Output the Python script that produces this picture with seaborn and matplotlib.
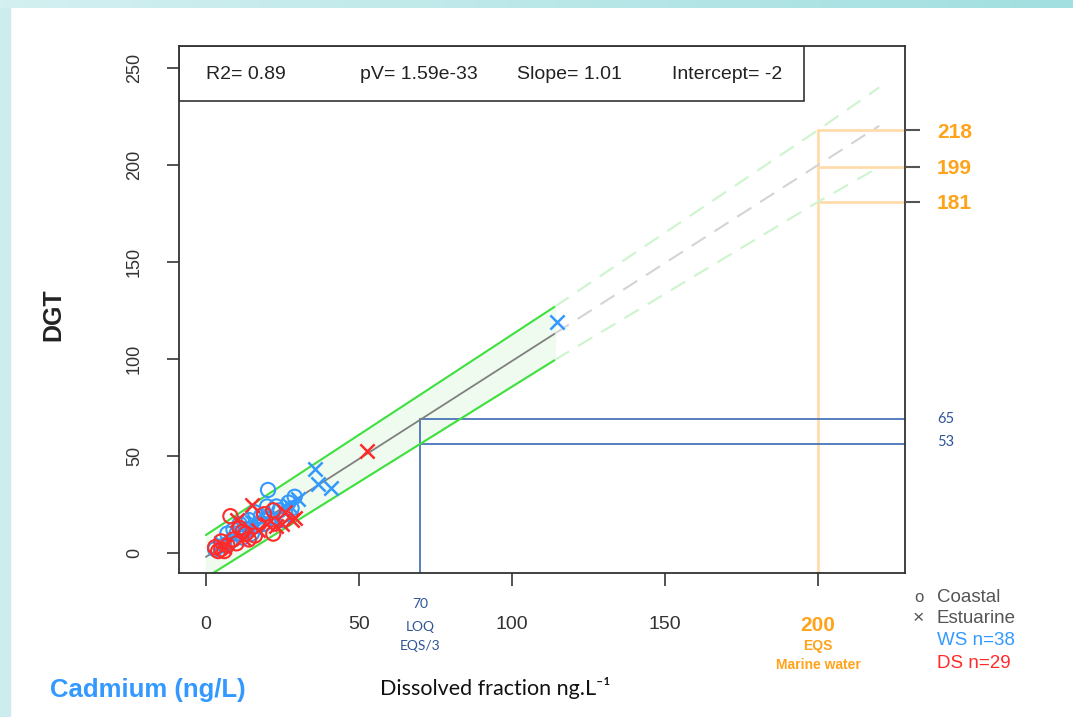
import numpy as np
import pandas as pd
import seaborn as sns
from matplotlib import pyplot as plt
from matplotlib.patches import Rectangle
import matplotlib.transforms as mtransforms

sns.set_style('white')
plt.rcParams['font.family'] = ['Liberation Sans', 'DejaVu Sans']

# WS (blue) points, estuarine (x) and coastal (o)
ws_est_x = [114.7, 35.6, 36.6, 40.8, 27, 25, 18, 15, 22, 5, 12, 30, 16]
ws_est_y = [119, 43.3, 35.6, 33.5, 25, 22, 20, 16, 18, 5, 14, 28, 13]
ws_coa_x = [20.3, 29, 27, 24, 18, 14, 16, 21, 10, 8, 6, 13, 19, 25, 12, 7, 23, 17, 9, 26, 3, 15, 11, 20, 28]
ws_coa_y = [32.5, 29, 26, 22, 19, 17, 21, 18, 10, 6, 4, 12, 15, 17, 8, 10, 24, 14, 12, 20, 2, 10, 15, 24, 23]
# DS (red) points
ds_est_x = [52.6, 15, 26, 28, 29, 20, 10, 23, 6, 12, 17, 25]
ds_est_y = [52.6, 25, 21, 17, 18, 15, 17, 14, 3, 8, 12, 15]
ds_coa_x = [8, 5, 4, 6, 7, 3, 9, 11, 13, 14, 22, 16, 10, 19, 22, 5, 12]
ds_coa_y = [19, 2, 1, 1, 4, 3, 7, 13, 10, 7, 10, 9, 5, 20, 22, 6, 11]

# regression line and prediction band
fit_x = [0, 114, 220]
fit_y = [-2, 113.1, 220.2]
upper_x = [0, 114, 200, 220]
upper_y = [9.3, 127, 218, 240]
lower_x = [0, 114, 200, 220]
lower_y = [-12.6, 99.5, 181, 199]

eqs = 200
eqs_vals = [218, 199, 181]
loq = 70
loq_vals = [69, 56]
loq_labels = ['65', '53']

blue = '#3399ff'
red = '#ff2a2a'
orange = '#ffa31a'
dblue = '#2f5597'

frames = []
for xs, ys, site, kind in [(ws_est_x, ws_est_y, 'WS', 'Estuarine'),
                           (ws_coa_x, ws_coa_y, 'WS', 'Coastal'),
                           (ds_est_x, ds_est_y, 'DS', 'Estuarine'),
                           (ds_coa_x, ds_coa_y, 'DS', 'Coastal')]:
    frames.append(pd.DataFrame({'dissolved': xs, 'dgt': ys, 'site': site, 'type': kind}))
df = pd.concat(frames, ignore_index=True)

fig = plt.figure(figsize=(10.73, 7.17), dpi=100)
# decorative frame
fig.patches.append(Rectangle((0, 0), 0.0095, 1, transform=fig.transFigure, color='#cdecee', zorder=-5))
grad = np.linspace(0, 1, 256).reshape(1, -1)
bax = fig.add_axes([0, 0.989, 1, 0.011])
bax.imshow(grad, aspect='auto', cmap=plt.matplotlib.colors.LinearSegmentedColormap.from_list('t', ['#d4f0f1', '#a2dfe0']))
bax.axis('off')

ax = fig.add_axes([0.1668, 0.2008, 0.6766, 0.735])
ax.set_xlim(-8.8, 228.4)
ax.set_ylim(-10.3, 261.3)

# band
ax.fill_between(upper_x[:2], lower_y[:2], upper_y[:2], color='#effbef', zorder=0)
ax.plot(upper_x[:2], upper_y[:2], color='#3ee03e', lw=1.5, zorder=1)
ax.plot(lower_x[:2], lower_y[:2], color='#3ee03e', lw=1.5, zorder=1)
ax.plot(upper_x[1:], upper_y[1:], color='#cdf5cd', lw=1.5, ls=(0, (8, 5)), zorder=1)
ax.plot(lower_x[1:], lower_y[1:], color='#cdf5cd', lw=1.5, ls=(0, (8, 5)), zorder=1)
ax.plot(fit_x[:2], fit_y[:2], color='#808080', lw=1.3, zorder=1)
ax.plot(fit_x[1:], fit_y[1:], color='#d4d4d4', lw=1.5, ls=(0, (8, 5)), zorder=1)

# EQS lines
ax.plot([eqs, eqs], [-10.3, eqs_vals[0]], color='#ffdcaa', lw=2, zorder=0.5)
for v in eqs_vals:
    ax.plot([eqs, 228.4], [v, v], color='#ffdcaa', lw=2, zorder=0.5)
# LOQ lines
ax.plot([loq, loq], [-10.3, loq_vals[0]], color='#4a74b8', lw=1.3, zorder=0.5)
for v in loq_vals:
    ax.plot([loq, 228.4], [v, v], color='#4a74b8', lw=1.3, zorder=0.5)

for site, col in [('WS', blue), ('DS', red)]:
    sub = df[(df.site == site) & (df.type == 'Coastal')]
    sns.scatterplot(data=sub, x='dissolved', y='dgt', ax=ax, marker='o', s=105,
                    facecolors='none', edgecolor=col, linewidth=1.5, zorder=3)
    sub = df[(df.site == site) & (df.type == 'Estuarine')]
    sns.scatterplot(data=sub, x='dissolved', y='dgt', ax=ax, marker='x', s=105,
                    color=col, linewidth=1.8, zorder=3)

for sp in ax.spines.values():
    sp.set_color('#333333')
    sp.set_linewidth(1.3)

ax.set_xticks([0, 50, 100, 150, 200])
ax.set_xticklabels(['0', '50', '100', '150', '200'])
ax.set_yticks([0, 50, 100, 150, 200, 250])
ax.set_yticklabels(['0', '50', '100', '150', '200', '250'], rotation=90, va='center')
ax.tick_params(axis='x', direction='out', length=9, width=1.3, color='#444444',
               pad=22, labelsize=14, labelcolor='#333333', bottom=True)
ax.tick_params(axis='y', direction='out', length=9, width=1.3, color='#444444',
               pad=17, labelsize=13, labelcolor='#333333', left=True)
lab200 = ax.get_xticklabels()[-1]
lab200.set_color(orange)
lab200.set_fontweight('bold')
lab200.set_fontsize(15)

ax.set_xlabel('')
ax.set_ylabel('DGT', fontsize=18, fontweight='bold', color='#222222')
ax.yaxis.set_label_coords(-0.157, 0.49)

# right axis with EQS values
ax2 = ax.twinx()
ax2.set_ylim(ax.get_ylim())
ax2.set_yticks(eqs_vals)
ax2.set_yticklabels([str(v) for v in eqs_vals])
ax2.tick_params(axis='y', direction='out', length=11, width=1.5, color='#555555',
                pad=12, labelsize=15, labelcolor=orange, right=True)
for t in ax2.get_yticklabels():
    t.set_fontweight('bold')
ax2.grid(False)
for sp in ax2.spines.values():
    sp.set_visible(False)

# stats box
ax.add_patch(Rectangle((0, 0.896), 0.861, 0.104, transform=ax.transAxes, fill=False,
                       lw=1.2, ec='#333333', zorder=5))
for xf, txt in [(0.037, 'R2= 0.89'), (0.249, 'pV= 1.59e-33'), (0.466, 'Slope= 1.01'),
                (0.679, 'Intercept= -2')]:
    ax.text(xf, 0.946, txt, transform=ax.transAxes, fontsize=14, va='center', color='#222222')

trans = mtransforms.blended_transform_factory(ax.transData, ax.transAxes)
cal = ['Lato', 'DejaVu Sans']
ax.text(loq, -0.059, '70', transform=trans, ha='center', va='center', fontsize=10, color=dblue, family=cal)
ax.text(loq, -0.102, 'LOQ', transform=trans, ha='center', va='center', fontsize=10, color=dblue, family=cal)
ax.text(loq, -0.139, 'EQS/3', transform=trans, ha='center', va='center', fontsize=10, color=dblue, family=cal)
ax.text(eqs, -0.139, 'EQS', transform=trans, ha='center', va='center', fontsize=10, color=orange, fontweight='bold')
ax.text(eqs, -0.175, 'Marine water', transform=trans, ha='center', va='center', fontsize=10, color=orange, fontweight='bold')

transr = mtransforms.blended_transform_factory(ax.transAxes, ax.transData)
for v, lab in zip([69, 57], loq_labels):
    ax.text(1.044, v, lab, transform=transr, ha='left', va='center', fontsize=10.5, color=dblue, family=cal)

# legend-like text
fig.text(0.856, 0.167, 'o', color='#555555', fontsize=12, ha='center', va='center')
fig.text(0.873, 0.167, 'Coastal', color='#555555', fontsize=13.5, va='center')
fig.text(0.856, 0.137, '×', color='#555555', fontsize=14, ha='center', va='center')
fig.text(0.873, 0.137, 'Estuarine', color='#555555', fontsize=13.5, va='center')
fig.text(0.873, 0.106, 'WS n=38', color=blue, fontsize=13.5, va='center')
fig.text(0.873, 0.075, 'DS n=29', color=red, fontsize=13.5, va='center')

fig.text(0.0466, 0.038, 'Cadmium (ng/L)', color=blue, fontsize=18.5, fontweight='bold', va='center')
fig.text(0.354, 0.040, 'Dissolved fraction ng.L⁻¹', color='#111111', fontsize=15.5, va='center', family=cal)

fig.savefig('out.png', dpi=100)
